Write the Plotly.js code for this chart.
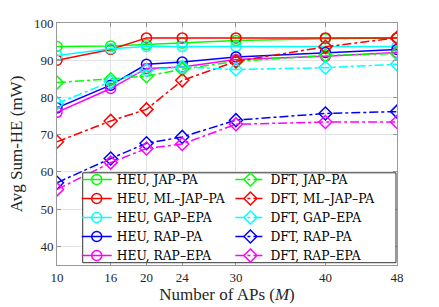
<!DOCTYPE html>
<html><head><meta charset="utf-8">
<script src="https://cdn.plot.ly/plotly-3.0.1.min.js"></script>
<style>html,body{margin:0;padding:0;background:#fff}#c{width:439px;height:307px}</style>
</head><body><div id="c"></div>
<script>
const M = [10, 16, 20, 24, 30, 40, 48];
const xTicks = [10, 16, 20, 24, 30, 40, 48];
const heuJAP = [93.7, 93.8, 94.2, 94.6, 95.3, 95.8, 96.0];
const heuML = [90.0, 92.9, 96.0, 96.0, 96.0, 96.0, 96.0];
const heuGAP = [91.3, 93.1, 93.7, 93.7, 93.7, 93.7, 93.7];
const heuRAP = [77.2, 83.3, 88.9, 89.5, 90.9, 92.1, 92.9];
const heuRAPE = [76.0, 82.4, 87.8, 88.2, 90.2, 91.1, 92.1];
const dftJAP = [84.0, 84.9, 85.7, 87.6, 89.7, 91.3, 91.8];
const dftML = [68.1, 73.7, 76.8, 84.6, 89.7, 93.6, 96.0];
const dftGAP = [78.4, 84.2, 87.3, 88.2, 87.5, 88.0, 88.9];
const dftRAP = [57.1, 63.6, 67.7, 69.4, 73.9, 75.7, 76.2];
const dftRAPE = [55.3, 62.5, 66.3, 67.5, 72.8, 73.4, 73.4];

const names1 = ['HEU, JAP–PA','HEU, ML–JAP–PA','HEU, GAP–EPA','HEU, RAP–PA','HEU, RAP–EPA'];
const names2 = ['DFT, JAP–PA','DFT, ML–JAP–PA','DFT, GAP–EPA','DFT, RAP–PA','DFT, RAP–EPA'];
const colors = ['#00ff00','#ff0000','#00ffff','#0000ff','#ff00ff'];
const heu = [heuJAP, heuML, heuGAP, heuRAP, heuRAPE];
const dft = [dftJAP, dftML, dftGAP, dftRAP, dftRAPE];

const traces = [];
heu.forEach((y,i)=>traces.push({x:M,y:y,name:names1[i],type:'scatter',mode:'lines+markers',
  line:{color:colors[i],width:1.5},marker:{symbol:'circle-open',size:10,color:colors[i],line:{width:1.5}},legend:'legend'}));
dft.forEach((y,i)=>traces.push({x:M,y:y,name:names2[i],type:'scatter',mode:'lines+markers',
  line:{color:colors[i],width:1.5,dash:'dashdot'},marker:{symbol:'diamond-open',size:10,color:colors[i],line:{width:1.5}},legend:'legend2'}));

const font = {family:'"Liberation Serif", serif', size:13, color:'#262626'};
const legFont = {family:'"DejaVu Serif", serif', size:12.3, color:'#000'};
const titleFont = {family:'"Liberation Serif", serif', size:17, color:'#262626'};
const layout = {
  width:439, height:307,
  margin:{l:57,r:42,t:23,b:42},
  paper_bgcolor:'#fff', plot_bgcolor:'#fff',
  font:font,
  showlegend:true,
  legend:{x:0.058,y:0.413,xanchor:'left',yanchor:'top',bgcolor:'rgba(0,0,0,0)',borderwidth:0,font:legFont,tracegroupgap:0,itemwidth:30},
  legend2:{x:0.51,y:0.413,xanchor:'left',yanchor:'top',bgcolor:'rgba(0,0,0,0)',borderwidth:0,font:legFont,tracegroupgap:0,itemwidth:30},
  xaxis:{range:[10,48],tickvals:xTicks,ticktext:xTicks.map(String),showgrid:true,gridcolor:'#e3e3e3',
    showline:true,linecolor:'#999',mirror:'ticks',ticks:'inside',ticklen:4,tickcolor:'#999',zeroline:false,
    title:{text:'Number of APs (<i>M</i>)',font:titleFont,standoff:3},tickfont:font},
  yaxis:{range:[35,100],dtick:10,tick0:0,showgrid:true,gridcolor:'#e3e3e3',
    showline:true,linecolor:'#999',mirror:'ticks',ticks:'inside',ticklen:4,tickcolor:'#999',zeroline:false,
    title:{text:'Avg Sum-HE (mW)',font:titleFont,standoff:6},tickfont:font},
  shapes:[{type:'rect',xref:'paper',yref:'paper',x0:0.0756,x1:0.997,y0:0.0095,y1:0.381,
    line:{color:'#333',width:1},fillcolor:'#fff',layer:'above'}]
};
Plotly.newPlot('c',traces,layout,{displayModeBar:false,staticPlot:true});
</script></body></html>
